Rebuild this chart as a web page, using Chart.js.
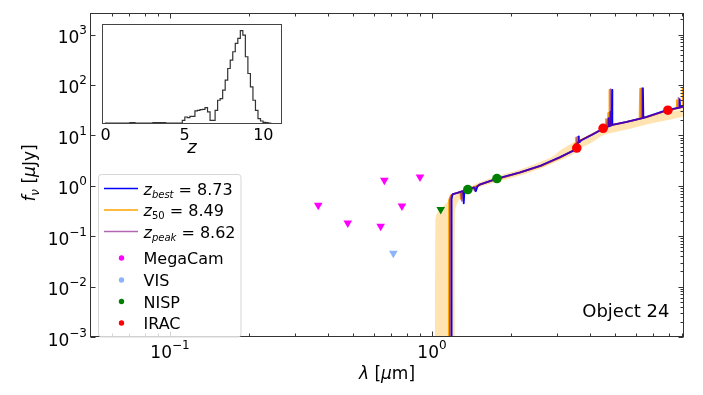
<!DOCTYPE html>
<html>
<head>
<meta charset="utf-8">
<script src="https://cdn.jsdelivr.net/npm/chart.js@4.4.1/dist/chart.umd.min.js"></script>
<style>
html, body { margin: 0; padding: 0; background: #fff; }
#wrap { position: relative; width: 703px; height: 395px; }
#main { position: absolute; left: 0; top: 0; }
#inset { position: absolute; left: 95px; top: 20px; }
</style>
</head>
<body>
<div id="wrap">
  <canvas id="main" width="703" height="395"></canvas>
  <canvas id="inset" width="200" height="140"></canvas>
</div>
<script>
// --- SED model curves (lambda in micron, flux in microJy)
const bestLam = [1.185, 1.188, 1.20, 1.25, 1.30, 1.315, 1.322, 1.33, 1.37, 1.45, 1.47, 1.49, 1.52, 1.77, 2.17, 2.60, 2.89, 3.08, 3.50, 3.55, 3.60, 3.62, 3.63, 3.64, 3.66, 3.72, 4.12, 4.50, 4.71, 4.73, 4.75, 4.81, 4.825, 4.84, 4.86, 4.87, 4.88, 5.53, 6.36, 6.385, 6.41, 6.59, 7.87, 8.79, 8.82, 8.85, 9.10];
const bestFlux = [1e-5, 0.55, 0.68, 0.72, 0.77, 0.78, 0.45, 0.80, 0.85, 0.93, 0.78, 0.96, 1.05, 1.38, 1.85, 2.5, 3.2, 3.7, 5.1, 5.3, 7.0, 7.2, 9.5, 7.2, 7.3, 8.0, 10.5, 13.6, 15.0, 22, 15.2, 15.6, 30, 15.8, 16, 80, 16.2, 18.5, 22, 86, 22.3, 23.2, 31.5, 35.5, 52, 35.8, 37.5];

const medLam = [1.159, 1.162, 1.18, 1.22, 1.28, 1.29, 1.30, 1.36, 1.40, 1.50, 1.75, 2.15, 2.60, 2.89, 3.08, 3.42, 3.47, 3.51, 3.53, 3.54, 3.55, 3.57, 3.65, 4.05, 4.45, 4.59, 4.61, 4.63, 4.69, 4.705, 4.72, 4.74, 4.752, 4.765, 5.45, 6.20, 6.228, 6.255, 6.55, 7.85, 8.58, 8.605, 8.63, 9.02, 9.045, 9.07];
const medFlux = [1e-5, 0.52, 0.64, 0.70, 0.75, 0.55, 0.77, 0.83, 0.88, 1.02, 1.33, 1.80, 2.45, 3.1, 3.6, 4.9, 5.1, 6.8, 7.0, 9.0, 7.0, 7.1, 7.8, 10.2, 13.2, 14.6, 21, 14.8, 15.2, 28, 15.4, 15.6, 80, 15.8, 18, 21.2, 84, 21.6, 22.6, 30.5, 34, 50, 34.2, 36, 88, 36.2];

const peakLam = [1.170, 1.173, 1.19, 1.24, 1.29, 1.30, 1.31, 1.36, 1.44, 1.455, 1.47, 1.51, 1.76, 2.16, 2.60, 2.89, 3.08, 3.46, 3.51, 3.56, 3.575, 3.585, 3.595, 3.62, 3.69, 4.08, 4.48, 4.655, 4.675, 4.695, 4.75, 4.77, 4.785, 4.805, 4.817, 4.83, 5.50, 6.29, 6.313, 6.34, 6.57, 7.86, 8.69, 8.72, 8.75, 9.10];
const peakFlux = [1e-5, 0.54, 0.66, 0.71, 0.76, 0.50, 0.78, 0.84, 0.92, 0.80, 0.94, 1.04, 1.36, 1.83, 2.48, 3.15, 3.65, 5.0, 5.2, 6.9, 7.1, 9.3, 7.1, 7.2, 7.9, 10.4, 13.4, 14.8, 21, 15.0, 15.4, 29, 15.6, 15.8, 82, 16.0, 18.3, 21.8, 85, 22.0, 22.9, 31, 35, 55, 35.2, 37];

// z50 percentile band
const bandLam = [1.025, 1.03, 1.04, 1.07, 1.12, 1.18, 1.215, 1.225, 1.25, 1.30, 1.40, 1.52, 1.77, 2.17, 2.60, 2.89, 3.08, 3.30, 3.50, 3.60, 4.12, 4.50, 5.53, 6.59, 7.87, 9.10];
const bandHi = [1e-5, 0.20, 0.27, 0.33, 0.42, 0.55, 0.62, 0.65, 0.72, 0.82, 0.95, 1.18, 1.55, 2.1, 3.0, 3.8, 5.0, 6.3, 7.2, 7.8, 10.5, 13.8, 18.5, 23, 28, 33];
const bandLo = [1e-5, 1e-5, 1e-5, 1e-5, 1e-5, 1e-5, 1e-5, 0.32, 0.45, 0.62, 0.78, 0.95, 1.2, 1.6, 2.2, 2.8, 3.2, 3.7, 4.4, 5.2, 7.5, 10.0, 13.0, 16.5, 20, 23.5];

// photometry (upper limits drawn as down triangles)
const megaLam = [0.368, 0.477, 0.637, 0.658, 0.768, 0.90];
const megaFlux = [0.41, 0.182, 0.157, 1.28, 0.396, 1.49];
const visLam = [0.712];
const visFlux = [0.046];
const nispLimLam = [1.08];
const nispLimFlux = [0.34];
const nispLam = [1.37, 1.77];
const nispFlux = [0.84, 1.39];
const iracLam = [3.57, 4.50, 7.95];
const iracFlux = [5.6, 13.8, 31.5];

// ticks
const xMajor = [0.1, 1];
const xMinor = [0.06, 0.07, 0.08, 0.09, 0.2, 0.3, 0.4, 0.5, 0.6, 0.7, 0.8, 0.9, 2, 3, 4, 5, 6, 7, 8, 9];
const yExp = [-3, -2, -1, 0, 1, 2, 3];
const xExp = [-1, 0];

// P(z) histogram for the inset
const histEdges = [-0.05, 1.54, 1.70, 1.86, 3.00, 3.16, 3.32, 3.48, 3.64, 3.80, 4.86, 5.02, 5.18, 5.34, 5.50, 5.66, 5.82, 5.98, 6.14, 6.30, 6.46, 6.62, 6.78, 6.94, 7.10, 7.26, 7.42, 7.58, 7.74, 7.90, 8.06, 8.22, 8.38, 8.54, 8.70, 8.86, 9.02, 9.18, 9.34, 9.50, 9.66, 9.82, 9.98, 10.14, 10.30, 10.5];
const histCounts = [0, 1, 1, 0, 1, 1, 1, 1, 1, 0, 8, 18, 16, 20, 20, 36, 38, 40, 41, 46, 33, 8, 8, 38, 68, 73, 98, 128, 163, 188, 213, 238, 253, 276, 263, 198, 148, 108, 68, 38, 13, 6, 2, 1, 0, 0];
const insetTicks = [0, 5, 10];

const FONT = '"DejaVu Sans", sans-serif';
const BLUE = '#0000ff', ORANGE = '#ffa500', PURPLE = 'rgba(128,0,128,0.6)';
const MAGENTA = '#ff00ff', LIGHTBLUE = '#8cb4f8', GREEN = '#008000', RED = '#ff0000';

const pts = (xs, ys) => xs.map((v, i) => ({x: v, y: ys[i]}));

function fontStr(p, size) {
    return (p.it ? 'italic ' : '') + (p.size || size) + 'px ' + FONT;
}
function drawRich(ctx, parts, x, y, size, align) {
    let w = 0;
    parts.forEach(p => { ctx.font = fontStr(p, size); w += ctx.measureText(p.t).width; });
    let cx = align === 'right' ? x - w : align === 'center' ? x - w / 2 : x;
    ctx.textAlign = 'left';
    ctx.textBaseline = 'alphabetic';
    parts.forEach(p => {
        ctx.font = fontStr(p, size);
        ctx.fillText(p.t, cx, y + (p.dy || 0));
        cx += ctx.measureText(p.t).width;
    });
}
const pow10 = n => [{t: '10'}, {t: (n < 0 ? '\u2212' : '') + Math.abs(n), size: 12, dy: -9}];

function lineSet(xs, ys, color, order) {
    return {data: pts(xs, ys), borderColor: color, borderWidth: 1.8, pointRadius: 0,
        borderJoinStyle: 'round', tension: 0, fill: false, order};
}
function markSet(xs, ys, color, style) {
    return {data: pts(xs, ys), showLine: false, pointStyle: style, pointRotation: style === 'triangle' ? 180 : 0,
        pointRadius: style === 'triangle' ? 5 : 4.8, pointBackgroundColor: color, pointBorderWidth: 0, order: 1};
}

const EQ = ' = ';
const legendItems = [
    {type: 'line', color: BLUE, parts: [{t: 'z', it: 1}, {t: 'best', it: 1, size: 10, dy: 3}, {t: EQ + '8.73'}]},
    {type: 'line', color: ORANGE, parts: [{t: 'z', it: 1}, {t: '50', size: 10, dy: 3}, {t: EQ + '8.49'}]},
    {type: 'line', color: PURPLE, parts: [{t: 'z', it: 1}, {t: 'peak', it: 1, size: 10, dy: 3}, {t: EQ + '8.62'}]},
    {type: 'dot', color: MAGENTA, parts: [{t: 'MegaCam'}]},
    {type: 'dot', color: LIGHTBLUE, parts: [{t: 'VIS'}]},
    {type: 'dot', color: GREEN, parts: [{t: 'NISP'}]},
    {type: 'dot', color: RED, parts: [{t: 'IRAC'}]}
];
const legendRows = [188.5, 210, 231.5, 258, 280, 301.5, 323];

const framePlugin = {
    id: 'frame',
    afterDatasetsDraw(chart) {
        const {ctx, chartArea: a, scales: {x, y}} = chart;
        ctx.save();
        ctx.strokeStyle = '#333';
        ctx.lineWidth = 1;
        ctx.beginPath();
        const L = a.left - 0.5, R = a.right + 0.5, T = a.top + 0.5, B = a.bottom - 0.5;
        const xt = (v, len) => {
            const px = Math.round(x.getPixelForValue(v)) + 0.5;
            ctx.moveTo(px, B); ctx.lineTo(px, B - len);
            ctx.moveTo(px, T); ctx.lineTo(px, T + len);
        };
        xMajor.forEach(v => xt(v, 5));
        xMinor.forEach(v => xt(v, 3));
        yExp.forEach(n => {
            const py = Math.round(y.getPixelForValue(Math.pow(10, n))) + 0.5;
            ctx.moveTo(L, py); ctx.lineTo(L + 5, py);
            ctx.moveTo(R, py); ctx.lineTo(R - 5, py);
            for (let k = 2; k <= 9; k++) {
                const v = k * Math.pow(10, n);
                if (v > y.max) break;
                const pm = Math.round(y.getPixelForValue(v)) + 0.5;
                ctx.moveTo(R, pm); ctx.lineTo(R - 3, pm);
            }
        });
        ctx.stroke();
        ctx.strokeRect(L, T, R - L, B - T);

        ctx.fillStyle = '#000';
        yExp.forEach(n => {
            const py = y.getPixelForValue(Math.pow(10, n));
            drawRich(ctx, pow10(n), 87, py + 8.5, 17, 'right');
        });
        xExp.forEach(n => {
            const px = x.getPixelForValue(Math.pow(10, n));
            drawRich(ctx, pow10(n), px, 357.5, 17, 'center');
        });
        drawRich(ctx, [{t: '\u03bb', it: 1}, {t: ' ['}, {t: '\u03bc', it: 1}, {t: 'm]'}], (a.left + a.right) / 2, 379, 17, 'center');
        ctx.save();
        ctx.translate(29, 173);
        ctx.rotate(-Math.PI / 2);
        drawRich(ctx, [{t: 'f', it: 1}, {t: '\u03bd', it: 1, size: 12, dy: 3.5}, {t: ' ['}, {t: '\u03bc', it: 1}, {t: 'Jy]'}], 0, 6, 17, 'center');
        ctx.restore();

        ctx.font = '18px ' + FONT;
        ctx.textAlign = 'right';
        ctx.textBaseline = 'alphabetic';
        ctx.fillText('Object 24', 669.5, 316.5);

        // legend box
        const bx = 98.5, by = 174.5, bw = 142.5, bh = 162.5, r = 3;
        ctx.beginPath();
        ctx.moveTo(bx + r, by);
        ctx.arcTo(bx + bw, by, bx + bw, by + bh, r);
        ctx.arcTo(bx + bw, by + bh, bx, by + bh, r);
        ctx.arcTo(bx, by + bh, bx, by, r);
        ctx.arcTo(bx, by, bx + bw, by, r);
        ctx.closePath();
        ctx.fillStyle = 'rgba(255,255,255,0.8)';
        ctx.fill();
        ctx.strokeStyle = 'rgba(204,204,204,0.8)';
        ctx.stroke();
        legendItems.forEach((it, i) => {
            const ly = legendRows[i];
            if (it.type === 'line') {
                ctx.strokeStyle = it.color;
                ctx.lineWidth = 1.5;
                ctx.beginPath();
                ctx.moveTo(104, ly); ctx.lineTo(138, ly);
                ctx.stroke();
            } else {
                ctx.fillStyle = it.color;
                ctx.beginPath();
                ctx.arc(121.5, ly, 2.7, 0, Math.PI * 2);
                ctx.fill();
            }
            ctx.fillStyle = '#000';
            drawRich(ctx, it.parts, 143.5, ly + 6.3, 16, 'left');
        });
        ctx.restore();
    }
};

new Chart(document.getElementById('main'), {
    type: 'line',
    data: {
        datasets: [
            {data: pts(bandLam, bandHi), fill: '+1', backgroundColor: 'rgba(255,165,0,0.3)', borderWidth: 0, pointRadius: 0, tension: 0.3, order: 10},
            {data: pts(bandLam, bandLo), fill: false, borderWidth: 0, pointRadius: 0, tension: 0.3, order: 10},
            lineSet(medLam, medFlux, ORANGE, 5),
            lineSet(bestLam, bestFlux, BLUE, 4),
            lineSet(peakLam, peakFlux, PURPLE, 3),
            markSet(megaLam, megaFlux, MAGENTA, 'triangle'),
            markSet(visLam, visFlux, LIGHTBLUE, 'triangle'),
            markSet(nispLimLam, nispLimFlux, GREEN, 'triangle'),
            markSet(nispLam, nispFlux, GREEN, 'circle'),
            markSet(iracLam, iracFlux, RED, 'circle')
        ]
    },
    options: {
        responsive: false,
        animation: false,
        devicePixelRatio: 1,
        layout: {padding: {left: 91, right: 20, top: 13, bottom: 58}},
        scales: {
            x: {type: 'logarithmic', min: 0.04995, max: 9.08, display: false},
            y: {type: 'logarithmic', min: 0.001, max: 2671, display: false}
        },
        plugins: {legend: {display: false}, tooltip: {enabled: false}}
    },
    plugins: [framePlugin]
});

const insetPlugin = {
    id: 'insetFrame',
    beforeDatasetsDraw(chart) {
        const {ctx, chartArea: a} = chart;
        ctx.save();
        ctx.fillStyle = '#fff';
        ctx.fillRect(a.left - 1, a.top - 1, a.right - a.left + 2, a.bottom - a.top + 2);
        ctx.restore();
    },
    afterDatasetsDraw(chart) {
        const {ctx, chartArea: a, scales: {x}} = chart;
        ctx.save();
        ctx.strokeStyle = '#444';
        ctx.lineWidth = 1;
        ctx.strokeRect(a.left - 0.5, a.top - 0.5, a.right - a.left + 1, a.bottom - a.top + 1);
        ctx.fillStyle = '#000';
        ctx.font = '16px ' + FONT;
        ctx.textAlign = 'center';
        ctx.textBaseline = 'alphabetic';
        insetTicks.forEach(v => ctx.fillText(String(v), x.getPixelForValue(v), 120));
        ctx.font = 'italic 18px ' + FONT;
        ctx.fillText('z', (a.left + a.right) / 2, 132.5);
        ctx.restore();
    }
};

new Chart(document.getElementById('inset'), {
    type: 'line',
    data: {
        datasets: [{
            data: pts(histEdges, histCounts),
            stepped: true,
            borderColor: '#333',
            borderWidth: 1.2,
            pointRadius: 0,
            fill: false
        }]
    },
    options: {
        responsive: false,
        animation: false,
        devicePixelRatio: 1,
        layout: {padding: {left: 8, top: 5, right: 14, bottom: 37}},
        scales: {
            x: {type: 'linear', min: -0.17, max: 11.12, display: false},
            y: {type: 'linear', min: 0, max: 293, display: false}
        },
        plugins: {legend: {display: false}, tooltip: {enabled: false}}
    },
    plugins: [insetPlugin]
});
</script>
</body>
</html>
